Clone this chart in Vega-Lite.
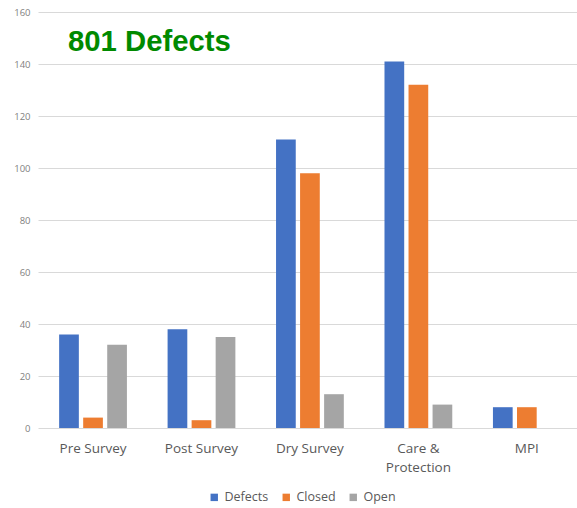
{
  "$schema": "https://vega.github.io/schema/vega-lite/v6.json",
  "autosize": {"type": "none"},
  "padding": {"left": 38, "top": 12, "right": 0, "bottom": 80},
  "width": 539,
  "height": 416,
  "background": "white",
  "title": {
    "text": "801 Defects",
    "anchor": "start",
    "frame": "group",
    "font": "Liberation Sans",
    "fontSize": 29.3,
    "fontWeight": "bold",
    "color": "#008a00",
    "dx": 30,
    "dy": 54
  },
  "data": {
    "values": [
      {"stage": "Pre Survey", "series": "Defects", "count": 36},
      {"stage": "Pre Survey", "series": "Closed", "count": 4},
      {"stage": "Pre Survey", "series": "Open", "count": 32},
      {"stage": "Post Survey", "series": "Defects", "count": 38},
      {"stage": "Post Survey", "series": "Closed", "count": 3},
      {"stage": "Post Survey", "series": "Open", "count": 35},
      {"stage": "Dry Survey", "series": "Defects", "count": 111},
      {"stage": "Dry Survey", "series": "Closed", "count": 98},
      {"stage": "Dry Survey", "series": "Open", "count": 13},
      {"stage": "Care & Protection", "series": "Defects", "count": 141},
      {"stage": "Care & Protection", "series": "Closed", "count": 132},
      {"stage": "Care & Protection", "series": "Open", "count": 9},
      {"stage": "MPI", "series": "Defects", "count": 8},
      {"stage": "MPI", "series": "Closed", "count": 8},
      {"stage": "MPI", "series": "Open", "count": 0}
    ]
  },
  "mark": {"type": "bar"},
  "encoding": {
    "x": {
      "field": "stage",
      "type": "nominal",
      "sort": ["Pre Survey", "Post Survey", "Dry Survey", "Care & Protection", "MPI"],
      "scale": {"paddingInner": 0.375, "paddingOuter": 0.1725, "align": 0.565},
      "axis": {
        "title": null,
        "labelAngle": 0,
        "labelFont": "Open Sans",
        "labelFontSize": 13.5,
        "labelColor": "#595959",
        "labelPadding": 13,
        "labelLineHeight": 19,
        "labelExpr": "datum.value == 'Care & Protection' ? ['Care &', 'Protection'] : datum.value",
        "ticks": false,
        "domain": false,
        "grid": false
      }
    },
    "xOffset": {
      "field": "series",
      "type": "nominal",
      "sort": ["Defects", "Closed", "Open"],
      "scale": {"paddingInner": 0.18}
    },
    "y": {
      "field": "count",
      "type": "quantitative",
      "scale": {"domain": [0, 160], "nice": false},
      "axis": {
        "title": null,
        "values": [0, 20, 40, 60, 80, 100, 120, 140, 160],
        "labelFont": "Open Sans",
        "labelFontSize": 9.5,
        "labelColor": "#7f7f7f",
        "labelPadding": 8,
        "ticks": false,
        "domain": false,
        "gridColor": "#d9d9d9",
        "gridWidth": 1
      }
    },
    "color": {
      "field": "series",
      "type": "nominal",
      "sort": ["Defects", "Closed", "Open"],
      "scale": {"domain": ["Defects", "Closed", "Open"], "range": ["#4472C4", "#ED7D31", "#A5A5A5"]},
      "legend": {
        "title": null,
        "orient": "none",
        "legendX": 170,
        "legendY": 479,
        "direction": "horizontal",
        "symbolType": "square",
        "symbolSize": 55,
        "symbolStrokeWidth": 0,
        "labelOffset": 4,
        "labelFont": "Open Sans",
        "labelFontSize": 12.5,
        "labelColor": "#595959",
        "columnPadding": 11
      }
    }
  },
  "config": {"view": {"stroke": null}}
}
